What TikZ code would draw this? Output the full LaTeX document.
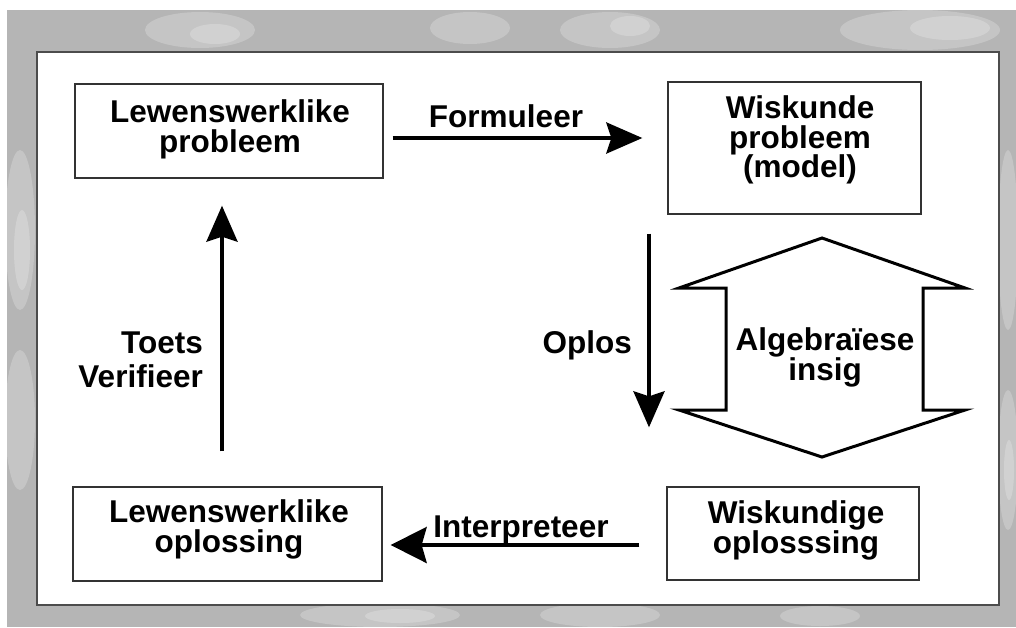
\documentclass[tikz,border=0pt]{standalone}
\usepackage{fontspec}
\setmainfont{Liberation Sans}
\usetikzlibrary{arrows.meta,calc}
\begin{document}
\begin{tikzpicture}[x=1pt,y=-1pt,
  box/.style={draw=black!80,line width=1.3pt,inner sep=0pt},
  lbl/.style={inner sep=0pt,align=center,font=\bfseries\fontsize{31.5}{30}\selectfont},
  flow/.style={line width=4pt,-{Stealth[length=36pt,width=31pt,inset=5pt]}},
  patch/.style={fill=white,opacity=0.22},
]
\useasboundingbox (0,0) rectangle (1016,627);
% mottled grey frame
\fill[white] (0,0) rectangle (1016,627);
\fill[gray!58] (7,10) rectangle (1016,627);
\begin{scope}
  \clip (7,10) rectangle (1016,627);
  \fill[patch] (200,30) ellipse (55 and 18);
  \fill[patch] (215,34) ellipse (25 and 10);
  \fill[patch] (470,28) ellipse (40 and 16);
  \fill[patch] (610,30) ellipse (50 and 18);
  \fill[patch] (630,26) ellipse (20 and 10);
  \fill[patch] (920,30) ellipse (80 and 20);
  \fill[patch] (950,28) ellipse (40 and 12);
  \fill[patch] (20,230) ellipse (15 and 80);
  \fill[patch] (22,250) ellipse (8 and 40);
  \fill[patch] (20,420) ellipse (15 and 70);
  \fill[patch] (380,615) ellipse (80 and 12);
  \fill[patch] (400,616) ellipse (35 and 7);
  \fill[patch] (600,615) ellipse (60 and 12);
  \fill[patch] (820,616) ellipse (40 and 10);
  \fill[patch] (1008,240) ellipse (10 and 90);
  \fill[patch] (1008,460) ellipse (10 and 70);
  \fill[patch] (1009,470) ellipse (5 and 30);
\end{scope}
\draw[fill=white,draw=black!70,line width=1.2pt] (37,52) rectangle (999,605);

% boxes
\node[box,minimum width=308pt,minimum height=94pt] (b1) at (229,131) {};
\node[box,minimum width=253pt,minimum height=132pt] (b2) at (794.5,148) {};
\node[box,minimum width=309pt,minimum height=94pt] (b3) at (227.5,534) {};
\node[box,minimum width=252pt,minimum height=93pt] (b4) at (793,533.5) {};

\node[lbl] (t1) at (230,129) {Lewenswerklike\\probleem};
\node[lbl,font=\bfseries\fontsize{31.5}{29.5}\selectfont] (t2) at (800,140) {Wiskunde\\probleem\\(model)};
\node[lbl] (t3) at (229,529) {Lewenswerklike\\oplossing};
\node[lbl] (t4) at (796,530) {Wiskundige\\oplosssing};

% connectors
\draw[flow,shorten <=9pt,shorten >=25pt] (b1.east |- 0,138) -- (b2.west |- 0,138);
\draw[flow,shorten <=19pt,shorten >=59pt] (b2.south -| 649,0) -- (b4.north -| 649,0);
\draw[flow,-{Stealth[length=36pt,width=36pt,inset=5pt]},shorten <=27pt,shorten >=8pt] (b4.west |- 0,545) -- (b3.east |- 0,545);
\draw[flow,shorten <=35pt,shorten >=27pt] (b3.north -| 222,0) -- (b1.south -| 222,0);

% connector labels
\node[lbl,anchor=base] (fl) at (506,127) {Formuleer};
\node[lbl,anchor=base] (ip) at (521,537) {Interpreteer};
\node[lbl,anchor=base east] (op) at (632,353) {Oplos};
\node[lbl,align=right,anchor=east,font=\bfseries\fontsize{31.5}{34}\selectfont] (tv) at (203,360) {Toets\\Verifieer};

% double-headed block arrow
\draw[line width=3pt,line join=miter,fill=white]
  (822,238) -- (965,288) -- (923,288) -- (923,410) -- (965,410)
  -- (822,457) -- (679,410) -- (726,410) -- (726,288) -- (679,288) -- cycle;
\node[lbl] (ai) at (825,357) {Algebraïese\\insig};
\end{tikzpicture}
\end{document}
